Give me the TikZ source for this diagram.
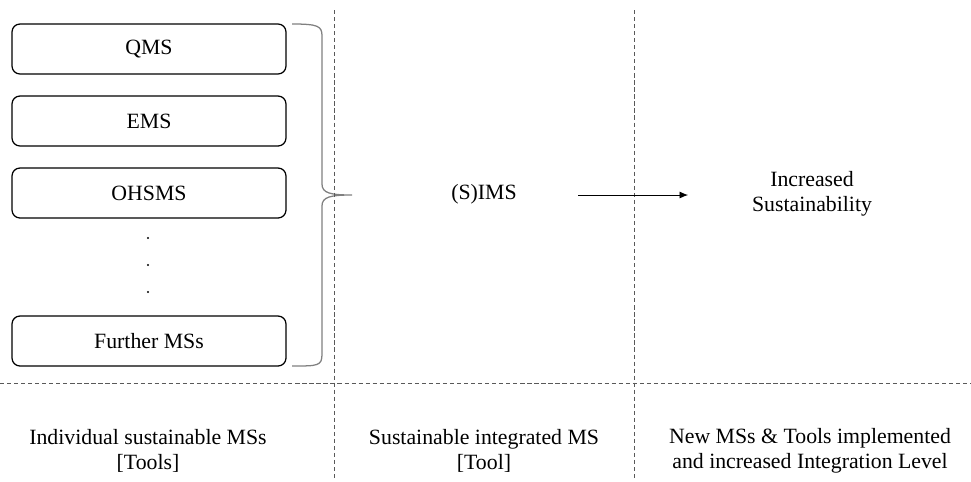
\documentclass[tikz,border=0pt]{standalone}
\usepackage{fontspec}
\setmainfont{Liberation Serif}
\usetikzlibrary{arrows.meta, positioning}

\begin{document}
\begin{tikzpicture}[x=0.025cm, y=-0.025cm]
      \useasboundingbox (0,0) rectangle (971,481);
      \tikzstyle{msbox} = [draw, rounded corners=0.2cm, line width=0.9pt, minimum width=274*0.025cm, minimum height=50*0.025cm, font=\fontsize{15.5}{18}\selectfont]
      \tikzstyle{lbl} = [align=center, font=\fontsize{15.5}{17.5}\selectfont]
      \tikzstyle{sep} = [gray!70!black, line width=0.5pt, dash pattern=on 3pt off 2pt]

      % management system boxes
      \foreach \name/\y/\txt in {
        qms/49/QMS, ems/121/EMS, ohsms/193/OHSMS, further/341/Further MSs
      } {
        \node[msbox] (\name) at (149,\y) {\txt};
      }
      \foreach \y in {238, 265, 292} {
        \fill (148,\y) circle (1.2);
      }

      % brace
      \draw[gray, line width=0.9pt] (292,24) .. controls (318,24) and (322,26) .. (322,36)
        -- (322,184) .. controls (322,193) and (330,195) .. (352,195)
        .. controls (330,195) and (322,197) .. (322,206)
        -- (322,354) .. controls (322,366) and (318,366) .. (292,366);

      % separators
      \draw[sep] (334,10) -- (334,481);
      \draw[sep] (634,10) -- (634,481);
      \draw[sep] (0,383) -- (971,383);

      % middle and right column
      \node[lbl] (sims) at (484,194) {(S)IMS};
      \node[lbl] (incr) at (812,194) {Increased\\Sustainability};
      \coordinate (a1) at (578,195);
      \coordinate (a2) at (688,195);
      \draw[-{Latex[length=6pt, width=5pt]}, line width=0.6pt] (a1) -- (a2);

      % column captions
      \node[lbl] (cap1) at (148,451) {Individual sustainable MSs\\{[}Tools{]}};
      \node[lbl] (cap2) at (484,451) {Sustainable integrated MS\\{[}Tool{]}};
      \node[lbl] (cap3) at (810,451) {New MSs \& Tools implemented\\and increased Integration Level};
    \end{tikzpicture}
\end{document}
